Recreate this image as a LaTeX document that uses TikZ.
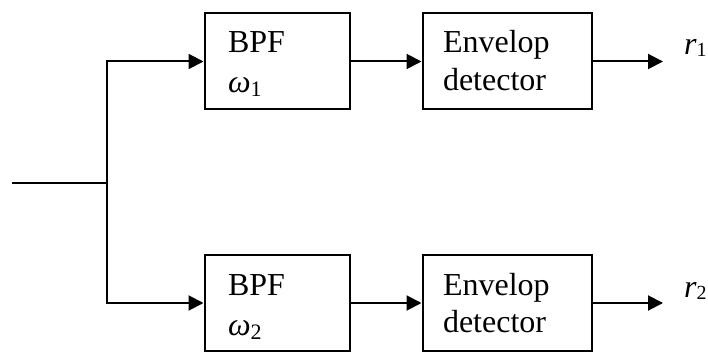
\documentclass[tikz,border=0pt]{standalone}
\usepackage{fontspec}
\setmainfont{Liberation Serif}
\usetikzlibrary{arrows.meta}
\begin{document}
\begin{tikzpicture}[x=1pt,y=-1pt,line width=2pt,
  blk/.style={draw,line width=2pt,inner sep=0pt,minimum height=96pt},
  bpfbox/.style={blk,minimum width=145pt},
  envbox/.style={blk,minimum width=169pt},
  lbl/.style={anchor=base west,inner sep=0pt,font=\fontsize{32}{38}\selectfont},
  arr/.style={-{Triangle[length=15pt,width=15pt]}}]
\useasboundingbox (0,0) rectangle (708,352);
% boxes
\node[bpfbox] (bpfA) at (277,61.5) {};
\node[envbox] (envA) at (507,61.5) {};
\node[bpfbox] (bpfB) at (277,303) {};
\node[envbox] (envB) at (507,303) {};
% texts
\node[lbl] (tbA) at (227,53) {BPF};
\node[lbl] (twA) at (227,93) {\textit{ω}\raisebox{-4pt}{\fontsize{22}{22}\selectfont 1}};
\node[lbl] (teA) at (442,53) {Envelop};
\node[lbl] (tdA) at (442,91) {detector};
\node[lbl] (tbB) at (227,295) {BPF};
\node[lbl] (twB) at (227,335) {\textit{ω}\raisebox{-4pt}{\fontsize{22}{22}\selectfont 2}};
\node[lbl] (teB) at (442,295) {Envelop};
\node[lbl] (tdB) at (442,332) {detector};
\node[lbl] (rA) at (683,55) {\textit{r}\raisebox{-2pt}{\fontsize{20}{20}\selectfont 1}};
\node[lbl] (rB) at (683,297) {\textit{r}\raisebox{-2pt}{\fontsize{20}{20}\selectfont 2}};
% connectors
\coordinate (in) at (12,183);
\coordinate (jn) at (107,183);
\coordinate (outA) at (663,61.5);
\coordinate (outB) at (663,303);
\draw (in) -- (jn);
\draw[arr] (jn) |- (bpfA.west);
\draw[arr] (jn) |- (bpfB.west);
\draw[arr] (bpfA.east) -- (envA.west);
\draw[arr] (bpfB.east) -- (envB.west);
\draw[arr] (envA.east) -- (outA);
\draw[arr] (envB.east) -- (outB);
\end{tikzpicture}
\end{document}
